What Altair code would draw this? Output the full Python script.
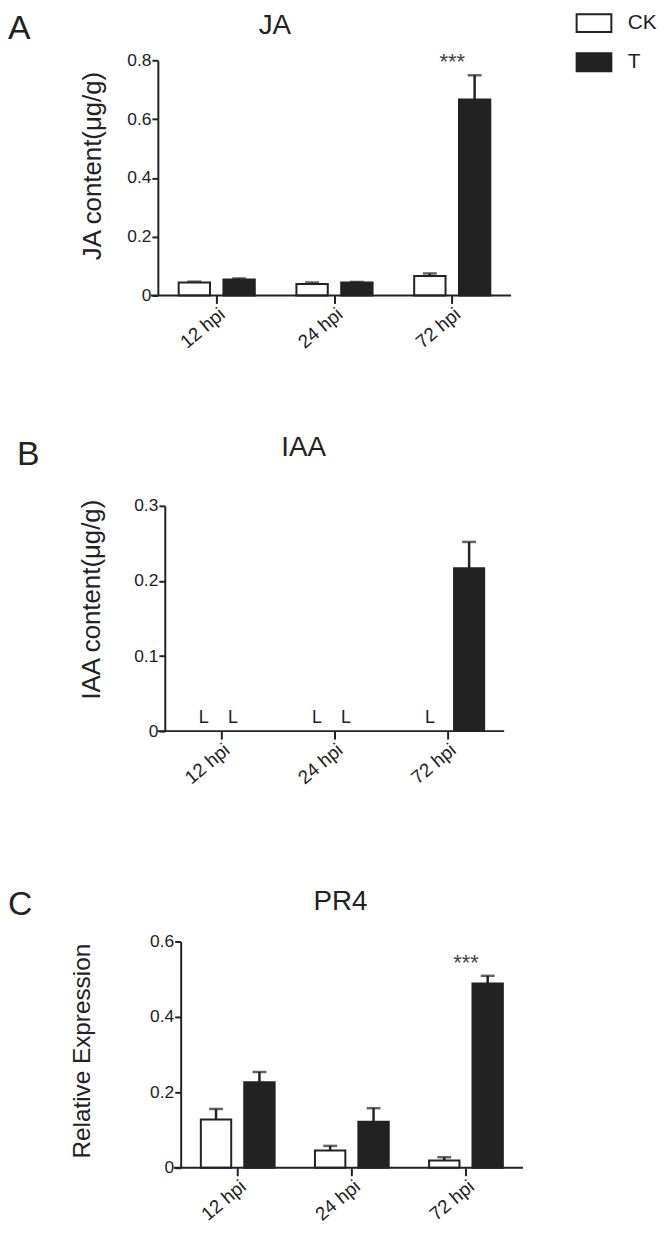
import altair as alt
import pandas as pd

# ---------------- data ----------------
categories = ["12 hpi", "24 hpi", "72 hpi"]
series = ["CK", "T"]

ja_ck = [0.044, 0.039, 0.066]
ja_ck_err = [0.003, 0.005, 0.009]
ja_t = [0.054, 0.044, 0.667]
ja_t_err = [0.004, 0.002, 0.082]
ja_sig = ["", "", "***"]

iaa_ck = [0.0, 0.0, 0.0]
iaa_ck_err = [0.0, 0.0, 0.0]
iaa_t = [0.0, 0.0, 0.217]
iaa_t_err = [0.0, 0.0, 0.035]
iaa_ck_note = ["L", "L", "L"]
iaa_t_note = ["L", "L", ""]

pr4_ck = [0.128, 0.046, 0.019]
pr4_ck_err = [0.028, 0.012, 0.009]
pr4_t = [0.227, 0.122, 0.489]
pr4_t_err = [0.027, 0.036, 0.020]
pr4_sig = ["", "", "***"]

ja_ticks = [0, 0.2, 0.4, 0.6, 0.8]
iaa_ticks = [0, 0.1, 0.2, 0.3]
pr4_ticks = [0, 0.2, 0.4, 0.6]

FONT = "Liberation Sans"
INK = "#222222"


def table(ck, ck_err, t, t_err, ck_note=None, t_note=None, sig=None):
    rows = []
    for i, c in enumerate(categories):
        rows.append(dict(category=c, series="CK", value=ck[i], err=ck_err[i],
                         upper=ck[i] + ck_err[i],
                         note=(ck_note[i] if ck_note else ""), sig=""))
        rows.append(dict(category=c, series="T", value=t[i], err=t_err[i],
                         upper=t[i] + t_err[i],
                         note=(t_note[i] if t_note else ""),
                         sig=(sig[i] if sig else "")))
    return pd.DataFrame(rows)


def panel(df, letter, letter_xy, title, title_xy, ytitle, ytitle_xy,
          ytitle_size, ymax, yticks, left, width, height, legend=None):
    xs = alt.Scale(domain=categories, range=[left, width],
                   paddingInner=0, paddingOuter=0)
    xaxis = alt.Axis(title=None, domain=False, ticks=True, tickSize=8,
                     tickWidth=2, labelAngle=320, labelAlign="right",
                     labelBaseline="top", labelPadding=1, labelFontSize=19,
                     labelFlush=False)
    X = alt.X("category:N", sort=categories, scale=xs, axis=xaxis)
    XO = alt.XOffset("series:N", sort=series,
                     scale=alt.Scale(domain=series, paddingInner=0.3,
                                     paddingOuter=0.465))
    ys = alt.Scale(domain=[0, ymax], nice=False, zero=True)
    yaxis = alt.Axis(values=yticks, format="~g", title=ytitle, offset=-left,
                     tickSize=6, labelPadding=1, labelFontSize=17.5,
                     labelFlush=False, titleFontSize=ytitle_size,
                     titleAngle=270,
                     titleX=ytitle_xy[0], titleY=ytitle_xy[1],
                     titleAlign="center", titleBaseline="middle")
    Yv = alt.Y("value:Q", scale=ys, axis=yaxis, title=ytitle)
    Yu = alt.Y("upper:Q", scale=ys, axis=yaxis, title=ytitle)

    fill = alt.Fill("series:N", sort=series,
                    scale=alt.Scale(domain=series, range=["#ffffff", INK]),
                    legend=legend)

    base = alt.Chart(df)
    bars = base.transform_filter("datum.value > 0").mark_bar(
        stroke=INK, strokeWidth=2).encode(x=X, xOffset=XO, y=Yv, fill=fill)
    stems = base.transform_filter("datum.err > 0").mark_rule(
        color=INK, strokeWidth=2.5).encode(
        x=X, xOffset=XO, y=Yv, y2=alt.Y2("upper:Q"))
    caps = base.transform_filter("datum.err > 0").mark_tick(
        orient="horizontal", size=14, thickness=2.5, color=INK).encode(
        x=X, xOffset=XO, y=Yu)
    notes_ck = base.transform_filter(
        "datum.note != '' && datum.series == 'CK'").mark_text(
        font=FONT, fontSize=18, color=INK, baseline="alphabetic",
        dy=-8, dx=4).encode(x=X, xOffset=XO, y=Yv, text="note:N")
    notes_t = base.transform_filter(
        "datum.note != '' && datum.series == 'T'").mark_text(
        font=FONT, fontSize=18, color=INK, baseline="alphabetic",
        dy=-8, dx=-10).encode(x=X, xOffset=XO, y=Yv, text="note:N")
    stars = base.transform_filter("datum.sig != ''").mark_text(
        font=FONT, fontSize=22, color="#444444", baseline="middle",
        dy=-13).encode(x=X, y=Yu, text="sig:N")

    one = pd.DataFrame({"k": [0]})
    xrule = alt.Chart(one).mark_rule(color=INK, strokeWidth=2).encode(
        x=alt.value(left - 7), x2=alt.value(width), y=alt.value(height))
    letter_mark = alt.Chart(one).mark_text(
        text=letter, font=FONT, fontSize=34, color=INK, align="left",
        baseline="top").encode(x=alt.value(letter_xy[0]),
                               y=alt.value(letter_xy[1]))
    title_mark = alt.Chart(one).mark_text(
        text=title, font=FONT, fontSize=28, color=INK, align="center",
        baseline="top").encode(x=alt.value(title_xy[0]),
                               y=alt.value(title_xy[1]))

    return alt.layer(bars, stems, caps, notes_ck, notes_t, stars, xrule,
                     letter_mark, title_mark).properties(
        width=width, height=height)


legend_a = alt.Legend(title=None, orient="none", legendX=436, legendY=-48,
                      direction="vertical",
                      symbolType="M-1.944,-1H1.944V1H-1.944Z", symbolSize=324,
                      symbolStrokeColor=INK, symbolStrokeWidth=2,
                      symbolOpacity=1, labelFont=FONT, labelFontSize=21,
                      labelColor=INK, labelOffset=23.5, rowPadding=12.5,
                      padding=0)

pa = panel(table(ja_ck, ja_ck_err, ja_t, ja_t_err, sig=ja_sig),
           "A", (-144, -48), "JA", (125, -48),
           "JA content(\u03bcg/g)", (-66, 106), 26,
           0.8, ja_ticks, 7, 363, 237, legend=legend_a)
pb = panel(table(iaa_ck, iaa_ck_err, iaa_t, iaa_t_err,
                 ck_note=iaa_ck_note, t_note=iaa_t_note),
           "B", (-135, -68), "IAA", (154, -72),
           "IAA content(\u03bcg/g)", (-74, 94), 26,
           0.3, iaa_ticks, 14, 356, 227)
pc = panel(table(pr4_ck, pr4_ck_err, pr4_t, pr4_t_err, sig=pr4_sig),
           "C", (-144, -54), "PR4", (191, -53.5),
           "Relative Expression", (-99, 110), 24.5,
           0.6, pr4_ticks, 30, 375, 228)

chart = alt.vconcat(pa, pb, pc, spacing=212, bounds="flush", padding=0
                    ).resolve_scale(
    x="independent", y="independent", fill="independent",
    xOffset="independent").resolve_legend(fill="independent"
    ).configure_view(stroke=None).configure_axis(
    grid=False, domainColor=INK, domainWidth=2, tickColor=INK, tickWidth=2,
    labelColor=INK, titleColor=INK, labelFont=FONT, titleFont=FONT,
    titleFontWeight="normal")

chart.save("out.html", embed_options={"renderer": "svg", "actions": False})
